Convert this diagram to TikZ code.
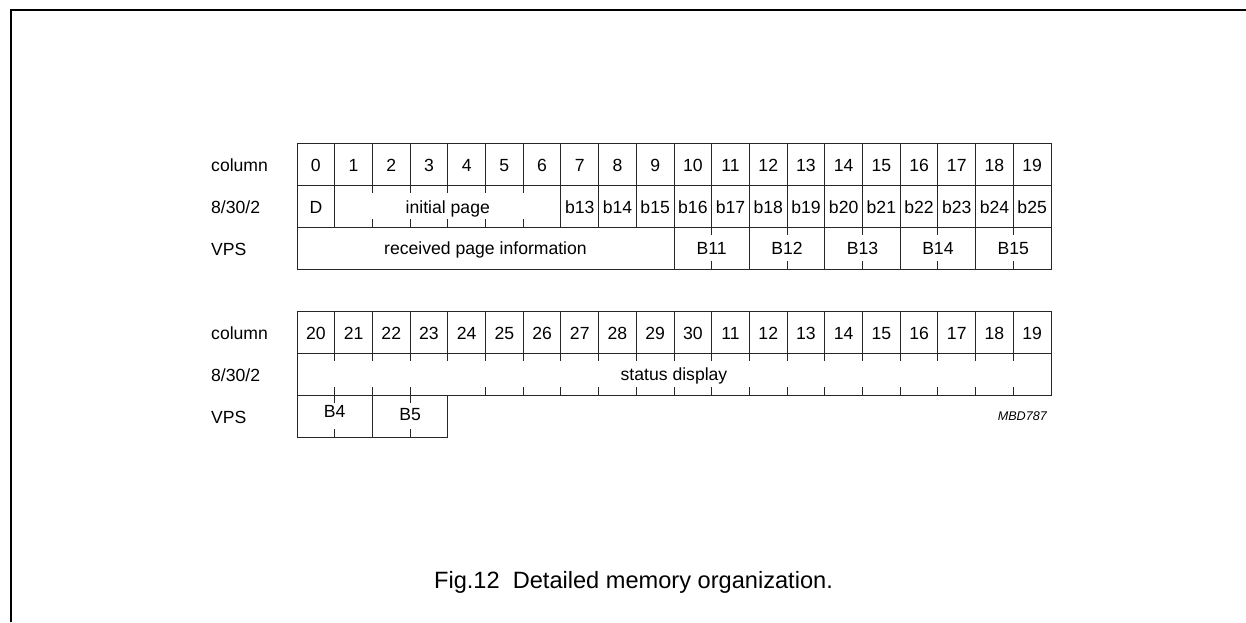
\documentclass[tikz,border=0pt]{standalone}
\usepackage{fontspec}
\setmainfont{Liberation Sans}
\begin{document}
\begin{tikzpicture}[x=1pt,y=-1pt,
  grid/.style={line width=0.9pt, black!85},
  frame/.style={line width=1.4pt, black},
  txt/.style={font=\fontsize{17.6}{20}\selectfont, inner sep=0pt, anchor=base},
  lab/.style={font=\fontsize{17.6}{20}\selectfont, inner sep=0pt, anchor=base west},
  code/.style={font=\fontsize{12.6}{14}\selectfont\itshape, inner sep=0pt, anchor=base east},
  capt/.style={font=\fontsize{23.6}{26}\selectfont, inner sep=0pt, anchor=base}]
\useasboundingbox (0,0) rectangle (1246,622);
\def\cw{37.7}
% outer frame
\draw[frame] (11,622) -- (11,10) -- (1246,10);

% ---------------- top table ----------------
\draw[grid] (297,143) rectangle (1051,269);
\draw[grid] (297,185) -- (1051,185);
\draw[grid] (297,227) -- (1051,227);
% row 1 verticals
\foreach \i in {1,...,19} \draw[grid] ({297+\i*\cw},143) -- ({297+\i*\cw},185);
% row 2 verticals and ticks
\foreach \i in {1,7,8,...,19} \draw[grid] ({297+\i*\cw},185) -- ({297+\i*\cw},227);
\foreach \i in {2,...,6} {
  \draw[grid] ({297+\i*\cw},185) -- ({297+\i*\cw},193);
  \draw[grid] ({297+\i*\cw},219) -- ({297+\i*\cw},227);
}
% row 3 verticals and ticks
\foreach \i in {10,12,...,18} \draw[grid] ({297+\i*\cw},227) -- ({297+\i*\cw},269);
\foreach \i in {11,13,...,19} {
  \draw[grid] ({297+\i*\cw},227) -- ({297+\i*\cw},235);
  \draw[grid] ({297+\i*\cw},261) -- ({297+\i*\cw},269);
}
% texts
\node[lab] (l1) at (211,171) {column};
\node[lab] (l2) at (211,213) {8/30/2};
\node[lab] (l3) at (211,255) {VPS};
\foreach \i in {0,...,19} \node[txt] (ta\i) at ({297+(\i+0.5)*\cw},171.5) {\i};
\node[txt] (tD) at ({297+0.5*\cw},213) {D};
\node[txt] (tinit) at ({297+4*\cw},213) {initial page};
\foreach \i [evaluate=\i as \j using int(\i+6)] in {7,...,19}
  \node[txt] (tb\i) at ({297+(\i+0.5)*\cw},213) {b\j};
\node[txt] (trec) at ({297+5*\cw},254) {received page information};
\foreach \i/\n in {11/11,13/12,15/13,17/14,19/15}
  \node[txt] (tB\n) at ({297+\i*\cw},254) {B\n};

% ---------------- bottom table ----------------
\draw[grid] (297,311) rectangle (1051,395);
\draw[grid] (297,353) -- (1051,353);
\foreach \i in {1,...,19} \draw[grid] ({297+\i*\cw},311) -- ({297+\i*\cw},353);
\foreach \i in {1,...,19} \draw[grid] ({297+\i*\cw},353) -- ({297+\i*\cw},361);
\foreach \i in {1,2,3,5,6,...,19} \draw[grid] ({297+\i*\cw},387) -- ({297+\i*\cw},395);
% row 3
\draw[grid] (297,395) -- (297,437) -- ({297+4*\cw},437) -- ({297+4*\cw},395);
\draw[grid] ({297+2*\cw},395) -- ({297+2*\cw},437);
\foreach \i in {1,3} {
  \draw[grid] ({297+\i*\cw},395) -- ({297+\i*\cw},403);
  \draw[grid] ({297+\i*\cw},429) -- ({297+\i*\cw},437);
}
% texts
\node[lab] (m1) at (211,339) {column};
\node[lab] (m2) at (211,381) {8/30/2};
\node[lab] (m3) at (211,423) {VPS};
\foreach \n [count=\k from 0] in {20,21,22,23,24,25,26,27,28,29,30,11,12,13,14,15,16,17,18,19}
  \node[txt] (sa\k) at ({297+(\k+0.5)*\cw},339.5) {\n};
\node[txt] (tstat) at ({297+10*\cw},380) {status display};
\node[txt] (tB4) at ({297+1*\cw},417) {B4};
\node[txt] (tB5) at ({297+3*\cw},420) {B5};
\node[code] (tcode) at (1047,420) {MBD787};

% caption
\node[capt] (tcap) at (633.5,588) {Fig.12\ \ Detailed memory organization.};
\end{tikzpicture}
\end{document}
